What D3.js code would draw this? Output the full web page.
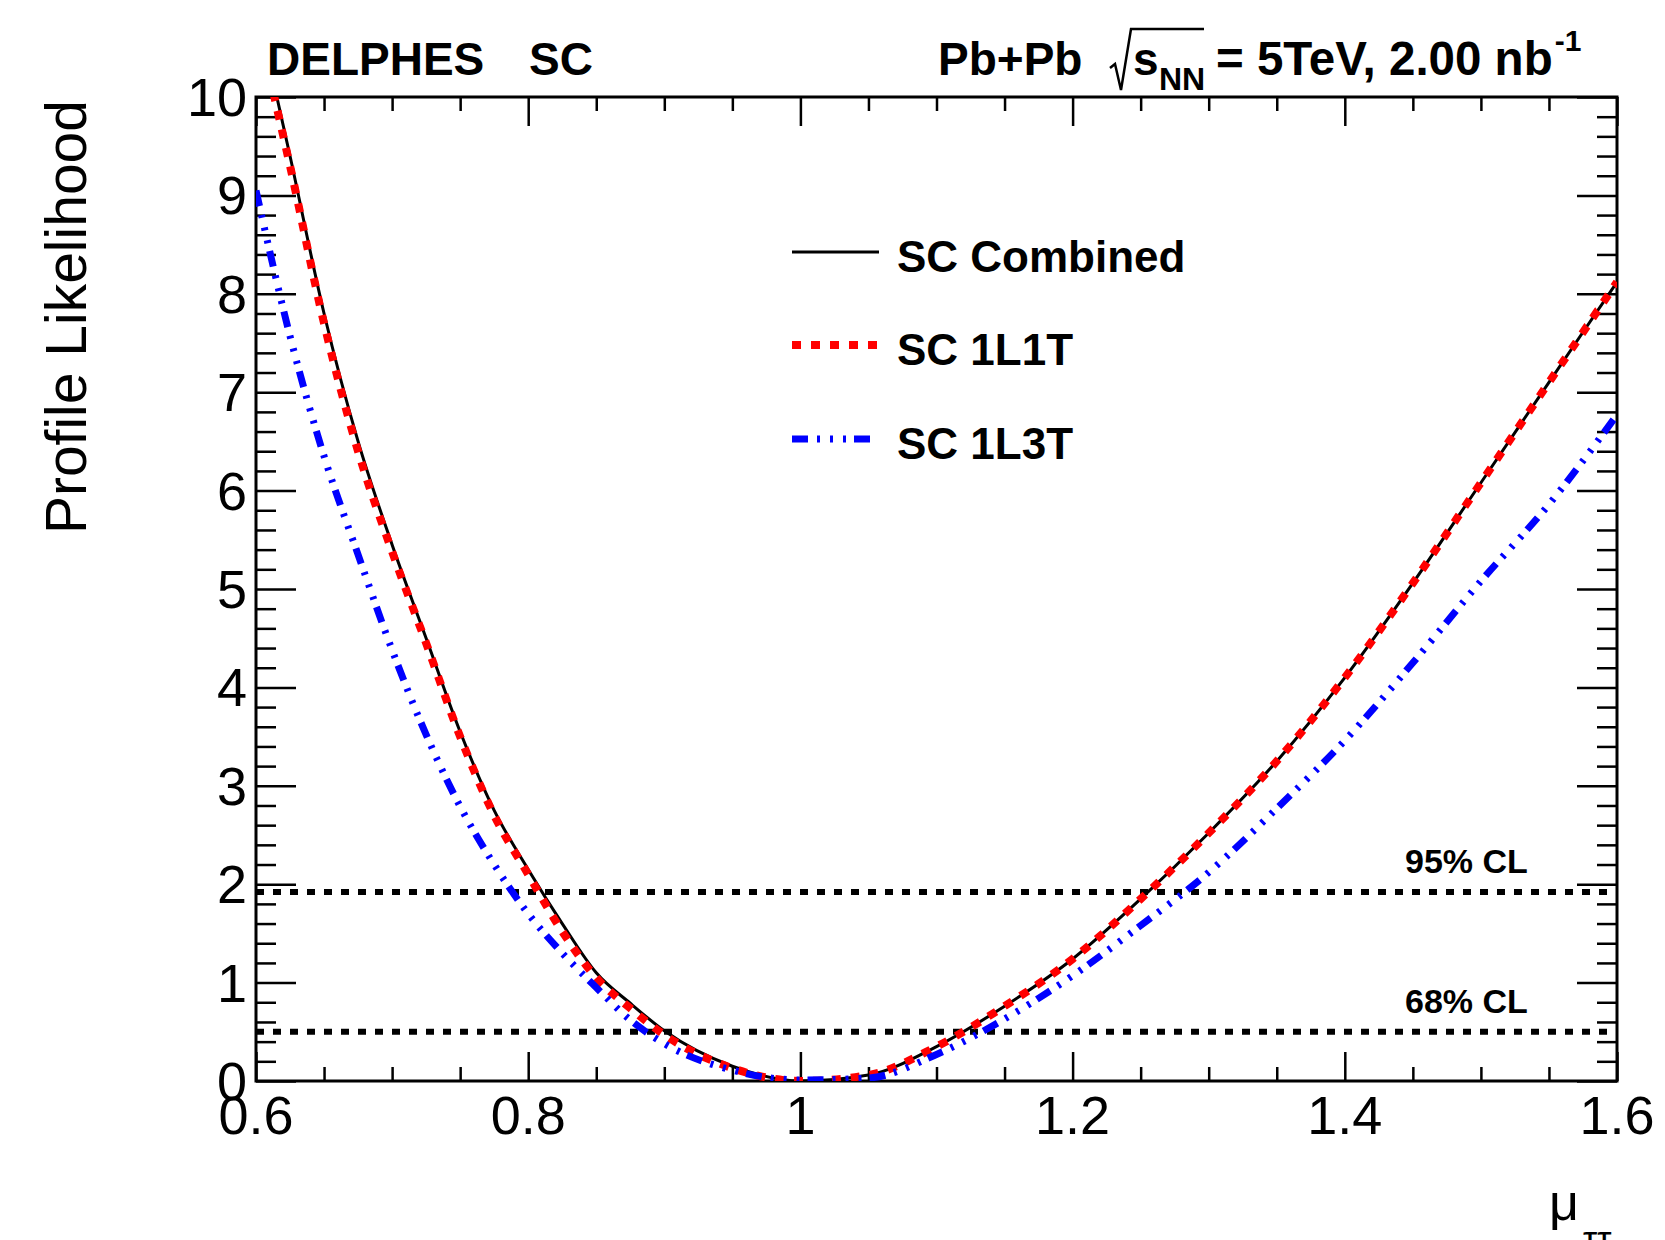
<!DOCTYPE html>
<html lang="en">
<head>
  <meta charset="UTF-8" />
  <script src="https://d3js.org/d3.v7.min.js"></script>
  <title>Profile Likelihood</title>
  <style>
    body { margin: 0; background: #fff; }
    text { font-family: "Liberation Sans", Arial, Helvetica, sans-serif; fill: #000; }
  </style>
</head>
<body>
  <svg width="1665" height="1240"></svg>

  <script>
    const muLeft = [0.6, 0.625, 0.65, 0.675, 0.7, 0.725, 0.75, 0.775, 0.8, 0.825, 0.85, 0.875, 0.9, 0.95, 1.0];
    const muRight = [1.05, 1.1, 1.15, 1.2, 1.25, 1.3, 1.35, 1.4, 1.45, 1.5, 1.55, 1.6];

    const combinedLeft = [10.95, 9.4, 7.8, 6.5, 5.45, 4.5, 3.55, 2.75, 2.15, 1.6, 1.1, 0.79, 0.51, 0.15, 0.0];
    const combinedRight = [0.06, 0.35, 0.76, 1.24, 1.85, 2.52, 3.25, 4.1, 5.06, 6.08, 7.1, 8.12];

    const l1t1Left = [10.8, 9.3, 7.7, 6.4, 5.38, 4.45, 3.5, 2.7, 2.1, 1.52, 1.05, 0.74, 0.47, 0.13, 0.0];
    const l1t1Right = [0.06, 0.35, 0.76, 1.24, 1.85, 2.52, 3.25, 4.1, 5.06, 6.08, 7.1, 8.12];

    const l1t3Left = [9.05, 7.57, 6.35, 5.35, 4.38, 3.52, 2.79, 2.2, 1.7, 1.3, 0.95, 0.62, 0.38, 0.11, 0.01];
    const l1t3Right = [0.03, 0.27, 0.63, 1.07, 1.58, 2.12, 2.77, 3.46, 4.25, 5.08, 5.86, 6.77];

    const clLevels = [1.92, 0.5];
    const clLabels = ["95% CL", "68% CL"];

    const xMajor = [0.6, 0.8, 1.0, 1.2, 1.4, 1.6];
    const xLabels = ["0.6", "0.8", "1", "1.2", "1.4", "1.6"];
    const yMajor = [0, 1, 2, 3, 4, 5, 6, 7, 8, 9, 10];
    const yLabels = ["0", "1", "2", "3", "4", "5", "6", "7", "8", "9", "10"];

    const seriesNames = ["SC Combined", "SC 1L1T", "SC 1L3T"];

    const svg = d3.select("svg");
    const plotLeft = 256, plotRight = 1617, plotTop = 97, plotBottom = 1081;

    const x = d3.scaleLinear().domain([0.6, 1.6]).range([plotLeft, plotRight]);
    const y = d3.scaleLinear().domain([0, 10]).range([plotBottom, plotTop]);

    const xMinor = d3.range(0.6, 1.6001, 0.05).map(v => +v.toFixed(2)).filter(v => !xMajor.some(m => Math.abs(m - v) < 1e-6));
    const yMinor = d3.range(0, 10.001, 0.2).map(v => +v.toFixed(1)).filter(v => !yMajor.includes(v));

    // ticks, ROOT style: all inside the frame, on all four sides
    function tickAxis(axisFn, scale, values, size, transform) {
      const g = svg.append("g").attr("transform", transform)
        .call(axisFn(scale).tickValues(values).tickSizeInner(size).tickSizeOuter(0).tickFormat(""));
      g.select(".domain").remove();
      g.selectAll("line").attr("stroke", "#000").attr("stroke-width", 2.5);
      return g;
    }
    tickAxis(d3.axisBottom, x, xMajor, -29, `translate(0,${plotBottom})`);
    tickAxis(d3.axisBottom, x, xMinor, -14, `translate(0,${plotBottom})`);
    tickAxis(d3.axisTop, x, xMajor, -29, `translate(0,${plotTop})`);
    tickAxis(d3.axisTop, x, xMinor, -14, `translate(0,${plotTop})`);
    tickAxis(d3.axisLeft, y, yMajor, -40, `translate(${plotLeft},0)`);
    tickAxis(d3.axisLeft, y, yMinor, -20, `translate(${plotLeft},0)`);
    tickAxis(d3.axisRight, y, yMajor, -40, `translate(${plotRight},0)`);
    tickAxis(d3.axisRight, y, yMinor, -20, `translate(${plotRight},0)`);

    // tick labels
    svg.append("g").selectAll("text").data(xMajor).join("text")
      .attr("x", d => x(d)).attr("y", plotBottom + 53)
      .attr("text-anchor", "middle").attr("font-size", 54)
      .text((d, i) => xLabels[i]);
    svg.append("g").selectAll("text").data(yMajor).join("text")
      .attr("x", plotLeft - 9).attr("y", d => y(d) + 19)
      .attr("text-anchor", "end").attr("font-size", 54)
      .text((d, i) => yLabels[i]);

    // frame
    svg.append("rect")
      .attr("x", plotLeft).attr("y", plotTop).attr("width", plotRight - plotLeft).attr("height", plotBottom - plotTop)
      .attr("fill", "none").attr("stroke", "#000").attr("stroke-width", 3);

    // clip for curves
    svg.append("clipPath").attr("id", "plot")
      .append("rect").attr("x", plotLeft).attr("y", plotTop).attr("width", plotRight - plotLeft).attr("height", plotBottom - plotTop);

    // confidence level lines
    svg.append("g").selectAll("line").data(clLevels).join("line")
      .attr("x1", plotLeft).attr("x2", plotRight)
      .attr("y1", d => y(d)).attr("y2", d => y(d))
      .attr("stroke", "#000").attr("stroke-width", 6).attr("stroke-dasharray", "8,9");
    svg.append("g").selectAll("text").data(clLevels).join("text")
      .attr("x", 1405).attr("y", d => y(d) - 19)
      .attr("font-size", 34).attr("font-weight", "bold")
      .text((d, i) => clLabels[i]);

    // curves
    const mu = muLeft.concat(muRight);
    const series = [
      { vals: combinedLeft.concat(combinedRight), color: "#000", width: 3, dash: null },
      { vals: l1t1Left.concat(l1t1Right), color: "#ff0000", width: 8, dash: "9,10" },
      { vals: l1t3Left.concat(l1t3Right), color: "#0000ff", width: 7, dash: "16,9,3,10,3,10,3,8" }
    ];
    const curves = svg.append("g").attr("clip-path", "url(#plot)");
    const line = d3.line().x((d, i) => x(mu[i])).y(d => y(d)).curve(d3.curveMonotoneX);
    series.forEach(s => {
      curves.append("path")
        .attr("d", line(s.vals))
        .attr("fill", "none")
        .attr("stroke", s.color)
        .attr("stroke-width", s.width)
        .attr("stroke-dasharray", s.dash);
    });

    // legend
    const legend = svg.append("g");
    const legendY = [252, 345, 439];
    series.forEach((s, i) => {
      legend.append("line")
        .attr("x1", 792).attr("x2", 879).attr("y1", legendY[i]).attr("y2", legendY[i])
        .attr("stroke", s.color).attr("stroke-width", s.width).attr("stroke-dasharray", s.dash);
      legend.append("text")
        .attr("x", 897).attr("y", legendY[i] + 20)
        .attr("font-size", 44).attr("font-weight", "bold")
        .text(seriesNames[i]);
    });

    // header texts
    svg.append("text").attr("x", 267).attr("y", 75).attr("font-size", 46).attr("font-weight", "bold").text("DELPHES");
    svg.append("text").attr("x", 529).attr("y", 75).attr("font-size", 46).attr("font-weight", "bold").text("SC");

    svg.append("text").attr("x", 938).attr("y", 75).attr("font-size", 46).attr("font-weight", "bold").text("Pb+Pb");
    svg.append("path")
      .attr("d", "M1110,68 L1115,64 L1121,90 L1131,29 L1204,29")
      .attr("fill", "none").attr("stroke", "#000").attr("stroke-width", 2.5);
    svg.append("text").attr("x", 1133).attr("y", 75).attr("font-size", 46).attr("font-weight", "bold").text("s");
    svg.append("text").attr("x", 1159).attr("y", 90).attr("font-size", 32).attr("font-weight", "bold").text("NN");
    const energy = svg.append("text").attr("x", 1216).attr("y", 75).attr("font-weight", "bold");
    energy.append("tspan").attr("font-size", 47.5).text("= 5TeV, 2.00 nb");
    energy.append("tspan").attr("font-size", 30).attr("dx", 2).attr("dy", -24).text("-1");

    // axis titles
    svg.append("text")
      .attr("transform", "translate(86,100) rotate(-90)")
      .attr("text-anchor", "end").attr("font-size", 57)
      .text("Profile Likelihood");
    svg.append("text").attr("x", 1549).attr("y", 1220).attr("font-size", 52).text("μ");
    svg.append("text").attr("x", 1583).attr("y", 1252).attr("font-size", 36).text("ττ");
  </script>
</body>
</html>
